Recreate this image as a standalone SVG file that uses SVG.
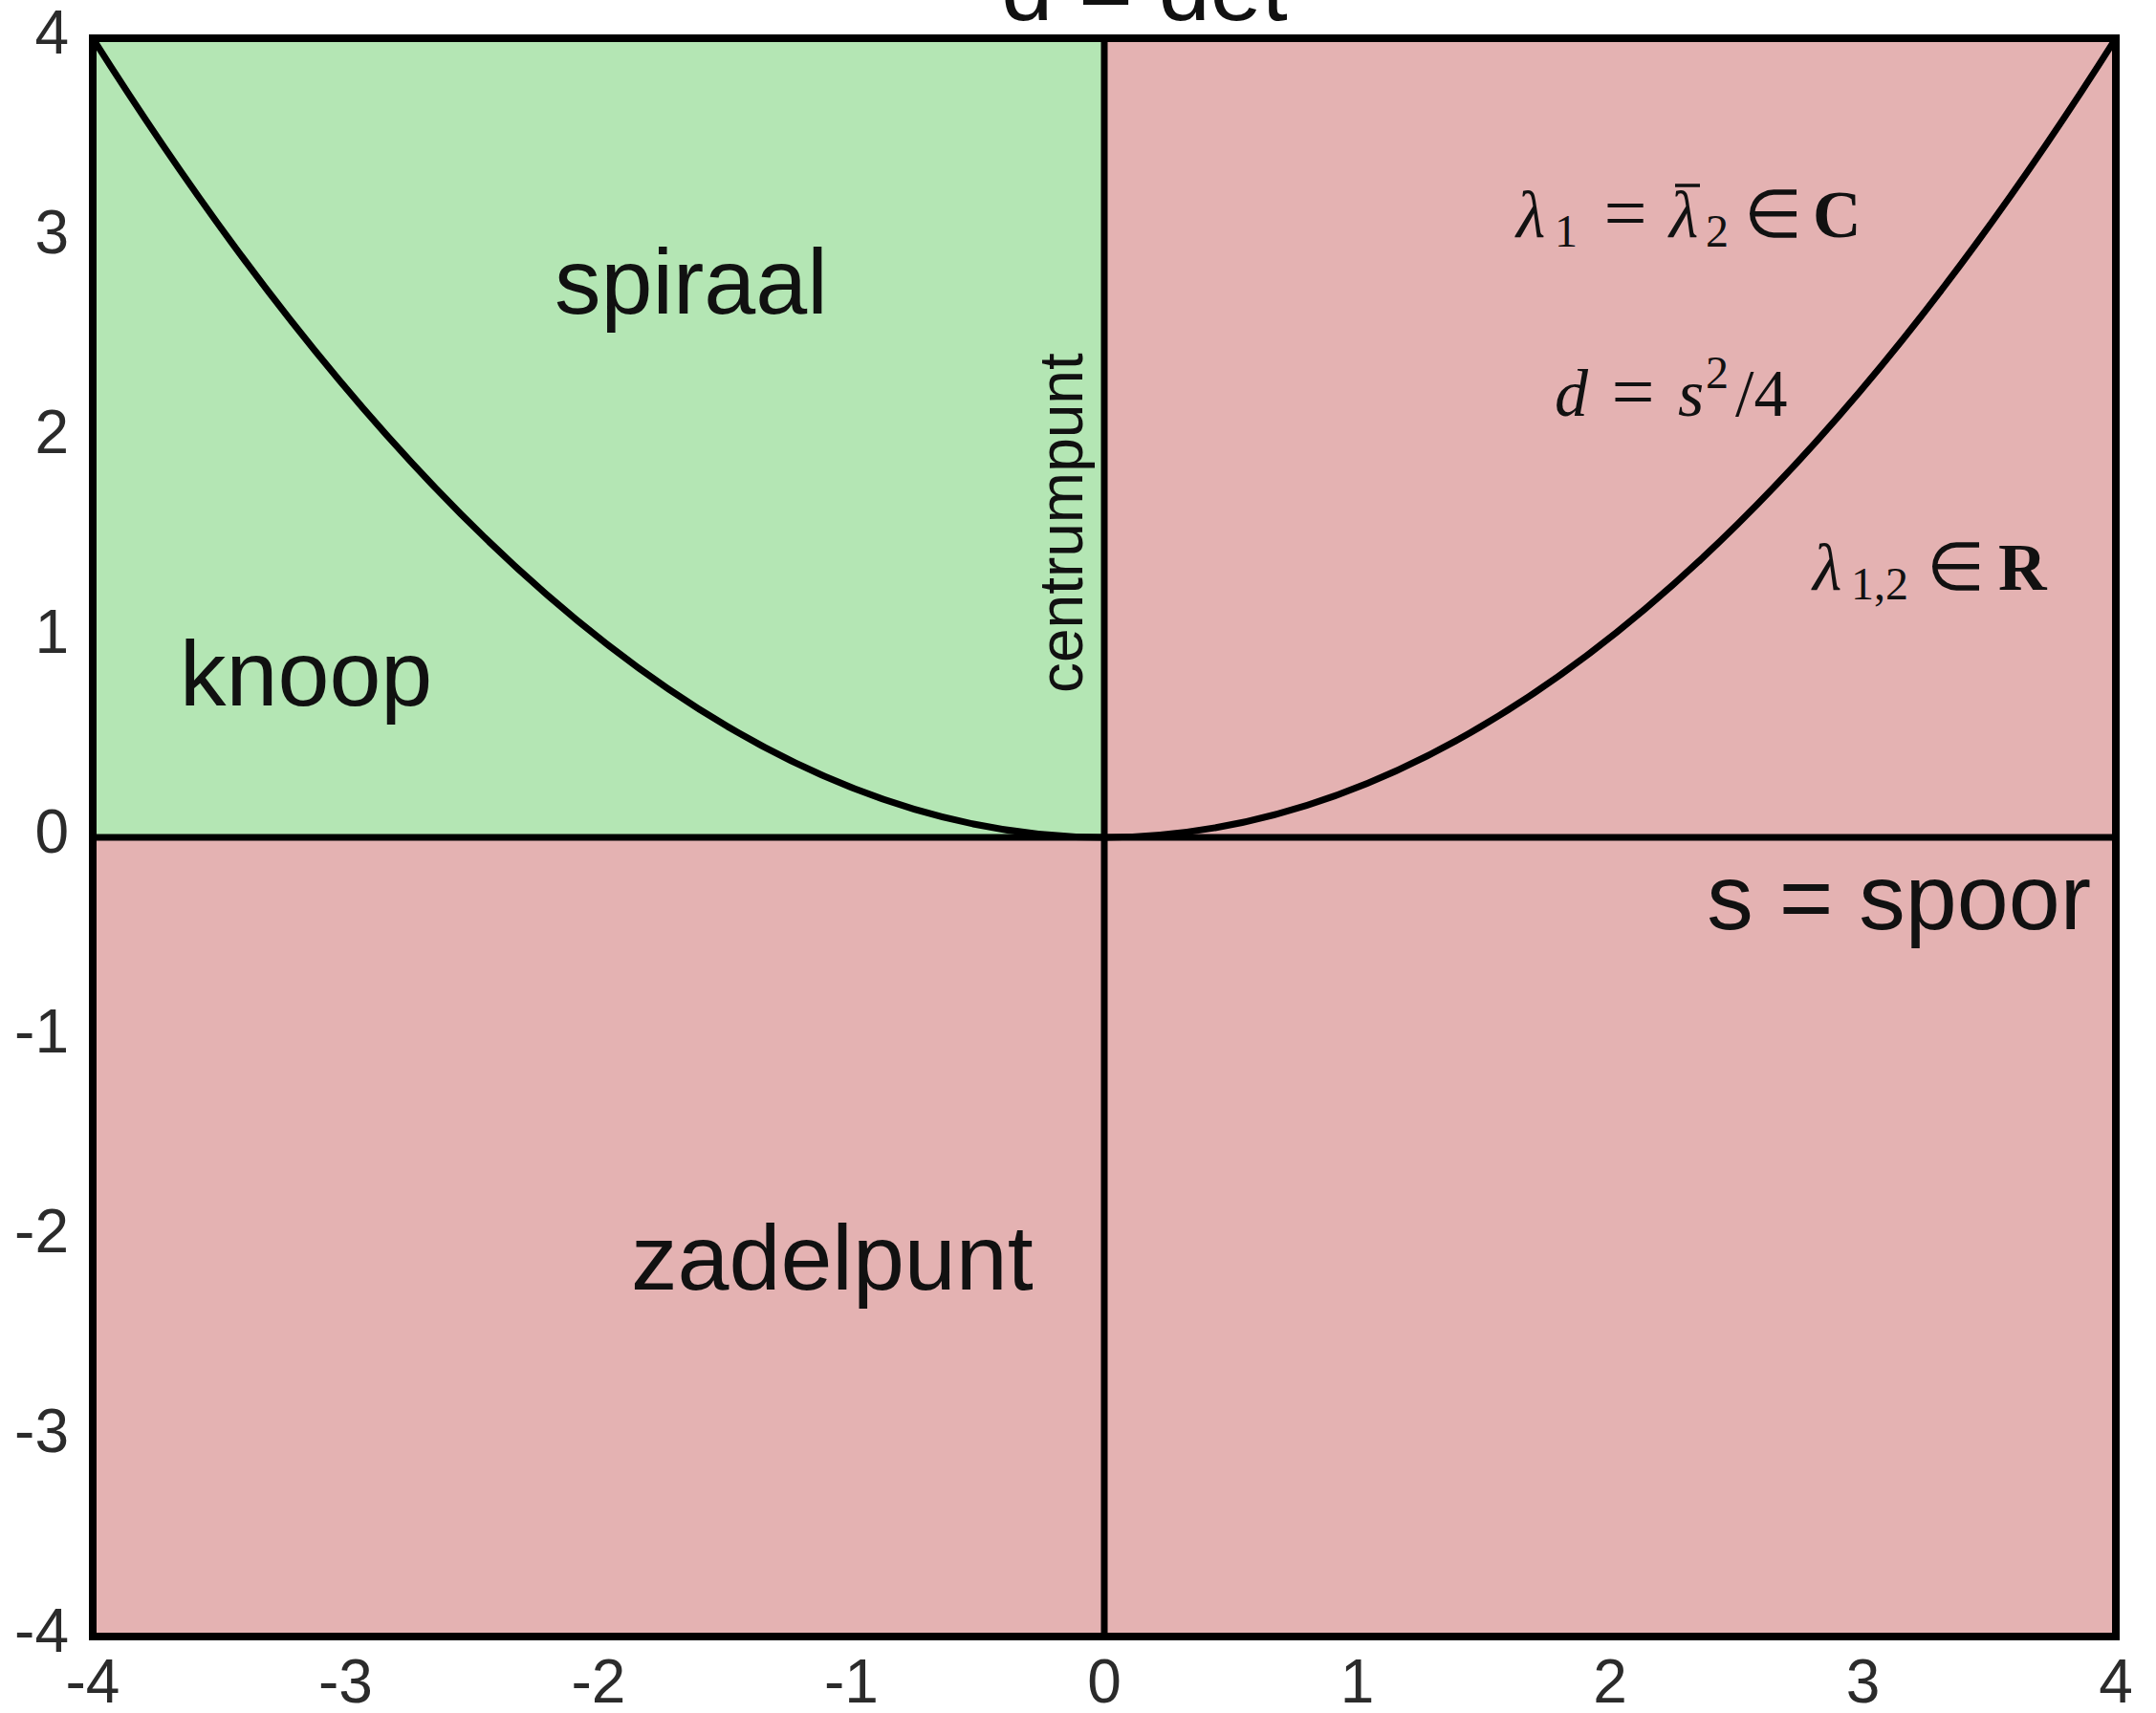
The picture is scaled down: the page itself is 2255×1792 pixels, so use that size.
<svg xmlns="http://www.w3.org/2000/svg" width="2255" height="1792" viewBox="0 0 2255 1792">
<style>
.tick{font-family:"Liberation Sans",Arial,sans-serif;font-size:64px;fill:#2b2b2b}
.ty{text-anchor:end}
.tx{text-anchor:middle}
.lab{font-family:"Liberation Sans",Arial,sans-serif;font-size:97px;fill:#111}
.m{font-family:"Liberation Serif","Times New Roman",serif;font-size:70px;fill:#111}
.mi{font-style:italic}
.mb{font-weight:bold}
.op{font-size:80px}
.sub{font-size:48px}
.ln{stroke:#000;fill:none}
</style>
<rect width="2255" height="1792" fill="#fff"/>
<g id="regions">
<rect id="pink" x="97" y="40" width="2116" height="1672" fill="#E4B2B2"/>
<rect id="green" x="97" y="40" width="1058" height="836" fill="#B4E6B4"/>
</g>
<g id="connectors">
<path class="ln" d="M97 40 Q1155 1712 2213 40" stroke-width="7"/>
<line class="ln" x1="97" y1="876" x2="2213" y2="876" stroke-width="7"/>
<line class="ln" x1="1155" y1="40" x2="1155" y2="1712" stroke-width="7"/>
<rect class="ln" x="97" y="40" width="2116" height="1672" stroke-width="8"/>
</g>
<g id="yticks" class="tick ty">
<text x="72" y="56">4</text>
<text x="72" y="265">3</text>
<text x="72" y="474">2</text>
<text x="72" y="683">1</text>
<text x="72" y="892">0</text>
<text x="72" y="1101">-1</text>
<text x="72" y="1310">-2</text>
<text x="72" y="1519">-3</text>
<text x="72" y="1728">-4</text>
</g>
<g id="xticks" class="tick tx">
<text x="97" y="1781">-4</text>
<text x="361.5" y="1781">-3</text>
<text x="626" y="1781">-2</text>
<text x="890.5" y="1781">-1</text>
<text x="1155" y="1781">0</text>
<text x="1419.5" y="1781">1</text>
<text x="1684" y="1781">2</text>
<text x="1948.5" y="1781">3</text>
<text x="2213" y="1781">4</text>
</g>
<g id="title"><text class="lab" x="1197" y="21" text-anchor="middle">d = det</text></g>
<g id="xlabel"><text class="lab" x="2187" y="972" text-anchor="end">s = spoor</text></g>
<g id="spiraal"><text class="lab" x="580" y="328">spiraal</text></g>
<g id="knoop"><text class="lab" x="188" y="738">knoop</text></g>
<g id="zadelpunt"><text class="lab" x="660" y="1349">zadelpunt</text></g>
<g id="centrumpunt"><text class="lab" style="font-size:64px" transform="translate(1132 725) rotate(-90)">centrumpunt</text></g>
<g id="complex">
<text class="m mi" x="1586" y="248">λ</text>
<text class="m sub" x="1626" y="258">1</text>
<text class="m op" x="1700" y="250" text-anchor="middle">=</text>
<text class="m mi" x="1746" y="248">λ</text>
<line x1="1752" y1="194" x2="1778" y2="194" stroke="#111" stroke-width="3.5"/>
<text class="m sub" x="1784" y="258">2</text>
<text class="m" x="1854" y="248" text-anchor="middle">∈</text>
<text class="m mb" x="1896" y="248">C</text>
</g>
<g id="parabola-label">
<text class="m mi" x="1626" y="435">d</text>
<text class="m op" x="1708" y="437" text-anchor="middle">=</text>
<text class="m mi" x="1755" y="435">s</text>
<text class="m sub" x="1784" y="406">2</text>
<text class="m" x="1815" y="435">/4</text>
</g>
<g id="real">
<text class="m mi" x="1896" y="617">λ</text>
<text class="m sub" x="1936" y="627">1,2</text>
<text class="m" x="2045" y="617" text-anchor="middle">∈</text>
<text class="m mb" x="2090" y="617">R</text>
</g>
</svg>
